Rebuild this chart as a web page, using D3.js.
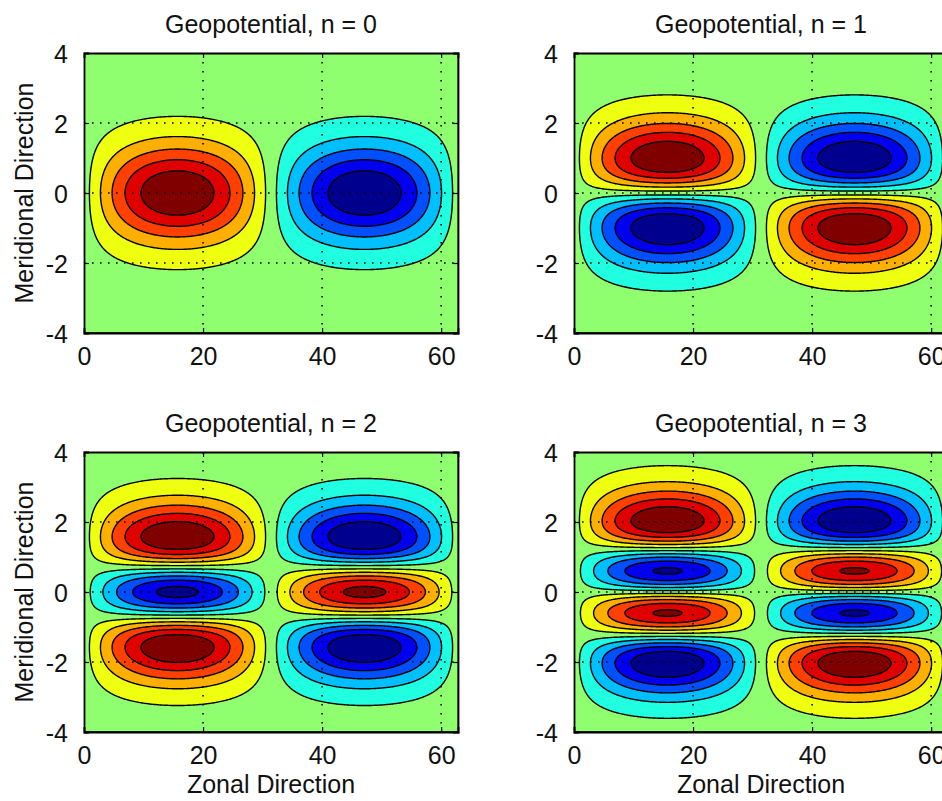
<!DOCTYPE html>
<html>
<head>
<meta charset="utf-8">
<script src="https://cdn.jsdelivr.net/npm/d3@7"></script>
<style>
  body { margin: 0; background: #fff; }
  svg text { font-family: "Liberation Sans", Arial, sans-serif; fill: #111; }
</style>
</head>
<body>
<div id="visualization"></div>
<script>
// equatorial wave modes, one per panel
const modes = [0, 1, 2, 3];
const panelTitles = ["Geopotential, n = 0", "Geopotential, n = 1", "Geopotential, n = 2", "Geopotential, n = 3"];
// Hermite polynomial coefficients H_n(y) = sum c_i y^i
const hermiteCoefs = [[1], [0, 2], [-2, 0, 4], [0, -12, 0, 8]];
const xDomain = [0, 62.83];
const yDomain = [-4, 4];
const waveNumber = 0.1;
const xTicks = [0, 20, 40, 60];
const yTicks = [-4, -2, 0, 2, 4];
const gridX = [20, 40, 60];
const gridY = [-2, 0, 2];
const levelCount = 10;

const W = 942, H = 801;
const plotW = 374, plotH = 280;
const colLeft = [84, 574];
const rowTop = [53, 452];

const svg = d3.select("#visualization").append("svg")
    .attr("width", W)
    .attr("height", H);

// MATLAB jet(64), 1-based row
function jetRow(i) {
    const n = 16;
    const u = j => {
        if (j < 1 || j > 47) return 0;
        if (j <= n) return j / n;
        if (j <= 31) return 1;
        return (48 - j) / n;
    };
    const c = v => Math.round(255 * v);
    return `rgb(${c(u(i - 24))},${c(u(i - 8))},${c(u(i + 8))})`;
}

// colour of band k (0 = below the lowest level)
function bandColor(k) {
    return jetRow(Math.min(64, Math.floor(k / levelCount * 64) + 1));
}

function hermite(n, y) {
    return hermiteCoefs[n].reduce((s, c, i) => s + c * Math.pow(y, i), 0);
}

// sample grid
const nx = 315, ny = 321;
const xStep = (xDomain[1] - xDomain[0]) / (nx - 1);
const yStep = (yDomain[1] - yDomain[0]) / (ny - 1);

function buildField(n) {
    const values = new Array(nx * ny);
    for (let j = 0; j < ny; j++) {
        const y = yDomain[0] + j * yStep;
        const env = hermite(n, y) * Math.exp(-y * y / 2);
        for (let i = 0; i < nx; i++) {
            const x = xDomain[0] + i * xStep;
            values[j * nx + i] = env * Math.sin(waveNumber * x);
        }
    }
    return values;
}

modes.forEach((n, idx) => {
    const left = colLeft[idx % 2];
    const top = rowTop[Math.floor(idx / 2)];

    const x = d3.scaleLinear().domain(xDomain).range([0, plotW]);
    const y = d3.scaleLinear().domain(yDomain).range([plotH, 0]);

    const g = svg.append("g").attr("transform", `translate(${left},${top})`);

    const clipId = "clip" + idx;
    g.append("clipPath").attr("id", clipId)
        .append("rect").attr("width", plotW).attr("height", plotH);

    const values = buildField(n);
    const [zmin, zmax] = d3.extent(values);
    const levels = d3.range(1, levelCount + 1).map(k => zmin + (zmax - zmin) * k / (levelCount + 1));

    const contours = d3.contours().size([nx, ny]).thresholds(levels)(values);

    // grid units -> data -> pixels
    const proj = d3.geoTransform({
        point: function(cx, cy) {
            const dx = xDomain[0] + (cx - 0.5) * xStep;
            const dy = yDomain[0] + (cy - 0.5) * yStep;
            this.stream.point(x(dx), y(dy));
        }
    });
    const path = d3.geoPath(proj);

    const body = g.append("g").attr("clip-path", `url(#${clipId})`);

    body.append("rect")
        .attr("width", plotW).attr("height", plotH)
        .attr("fill", bandColor(0));

    body.selectAll("path.band")
        .data(contours)
        .enter().append("path")
        .attr("class", "band")
        .attr("d", path)
        .attr("fill", (d, i) => bandColor(i + 1))
        .attr("stroke", "none");

    body.selectAll("path.line")
        .data(contours)
        .enter().append("path")
        .attr("class", "line")
        .attr("d", path)
        .attr("fill", "none")
        .attr("stroke", "#000")
        .attr("stroke-width", 1.4);

    // dotted grid
    body.selectAll("line.gx")
        .data(gridX)
        .enter().append("line")
        .attr("x1", d => x(d)).attr("x2", d => x(d))
        .attr("y1", 0).attr("y2", plotH)
        .attr("stroke", "#000").attr("stroke-width", 1.6)
        .attr("stroke-dasharray", "1.6,7.4");
    body.selectAll("line.gy")
        .data(gridY)
        .enter().append("line")
        .attr("y1", d => y(d)).attr("y2", d => y(d))
        .attr("x1", 0).attr("x2", plotW)
        .attr("stroke", "#000").attr("stroke-width", 1.6)
        .attr("stroke-dasharray", "1.6,6.4");

    // axes with inward ticks
    const fmt = d => String(d);
    g.append("g").attr("transform", `translate(0,${plotH})`)
        .call(d3.axisBottom(x).tickValues(xTicks).tickSize(-5).tickPadding(14).tickFormat(fmt));
    const yAxis = g.append("g")
        .call(d3.axisLeft(y).tickValues(yTicks).tickSize(-5).tickPadding(16).tickFormat(fmt));
    g.append("g").call(d3.axisTop(x).tickValues(xTicks).tickSize(-5).tickFormat(""));
    g.append("g").attr("transform", `translate(${plotW},0)`)
        .call(d3.axisRight(y).tickValues(yTicks).tickSize(-5).tickFormat(""));

    g.selectAll(".domain").attr("stroke", "#000").attr("stroke-width", 1.8);
    g.selectAll(".tick line").attr("stroke", "#000").attr("stroke-width", 1.2);
    g.selectAll(".tick text")
        .attr("font-size", 25)
        .attr("font-family", "'Liberation Sans', Arial, sans-serif")
        .attr("fill", "#111");
    yAxis.selectAll(".tick text").attr("dy", "0.36em");

    g.append("text")
        .attr("x", plotW / 2)
        .attr("y", -20)
        .attr("text-anchor", "middle")
        .attr("font-size", 25)
        .text(panelTitles[idx]);

    if (idx % 2 === 0) {
        g.append("text")
            .attr("transform", `translate(-51,${plotH / 2}) rotate(-90)`)
            .attr("text-anchor", "middle")
            .attr("font-size", 25)
            .text("Meridional Direction");
    }
    if (idx >= 2) {
        g.append("text")
            .attr("x", plotW / 2)
            .attr("y", plotH + 61)
            .attr("text-anchor", "middle")
            .attr("font-size", 25)
            .text("Zonal Direction");
    }
});
</script>
</body>
</html>
